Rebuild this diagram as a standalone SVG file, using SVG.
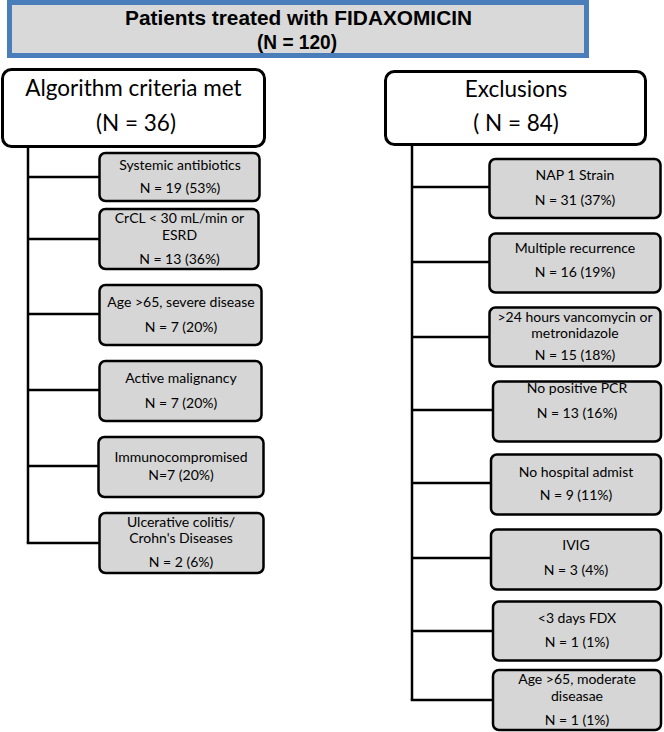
<svg xmlns="http://www.w3.org/2000/svg" width="664" height="732" viewBox="0 0 664 732">
<style>
.bg{fill:#ffffff}
.title{fill:#d9d9d9;stroke:#4a7ebb;stroke-width:5}
.tt{font-family:"Liberation Sans",Arial,sans-serif;font-weight:bold;font-size:20px;fill:#000;text-anchor:middle}
.hdr{fill:#ffffff;stroke:#000;stroke-width:3}
.ht{font-family:Lato,"Open Sans",sans-serif;font-size:22.5px;fill:#000;text-anchor:middle}
.box{fill:#d6d6d6;stroke:#000;stroke-width:2.5}
.bt{font-family:Lato,"Open Sans",sans-serif;font-size:14px;fill:#000;text-anchor:middle}
.conn line{stroke:#000;stroke-width:2.5;fill:none}
</style>
<rect class="bg" x="0" y="0" width="664" height="732"/>
<g id="title">
<rect class="title" x="9.5" y="2.5" width="577" height="53"/>
<text class="tt" x="298.5" y="25" textLength="347" lengthAdjust="spacingAndGlyphs">Patients treated with FIDAXOMICIN</text>
<text class="tt" x="297" y="49" textLength="80" lengthAdjust="spacingAndGlyphs">(N = 120)</text>
</g>
<g class="conn" id="connectors">
<line x1="28" y1="147" x2="28" y2="543"/>
<line x1="28" y1="177" x2="99" y2="177"/>
<line x1="28" y1="239" x2="99" y2="239"/>
<line x1="28" y1="314" x2="99" y2="314"/>
<line x1="28" y1="390" x2="99" y2="390"/>
<line x1="28" y1="466" x2="99" y2="466"/>
<line x1="26.75" y1="543" x2="99" y2="543"/>
<line x1="412" y1="145" x2="412" y2="700"/>
<line x1="412" y1="187" x2="489" y2="187"/>
<line x1="412" y1="262" x2="489" y2="262"/>
<line x1="412" y1="337" x2="489" y2="337"/>
<line x1="412" y1="410" x2="492" y2="410"/>
<line x1="412" y1="483" x2="490" y2="483"/>
<line x1="412" y1="558" x2="490" y2="558"/>
<line x1="412" y1="631" x2="492" y2="631"/>
<line x1="410.75" y1="700" x2="492" y2="700"/>
</g>
<g id="algorithm">
<rect class="hdr" x="2.5" y="69.5" width="262" height="77" rx="9"/>
<text class="ht" x="133.5" y="96">Algorithm criteria met</text>
<text class="ht" x="136" y="131">(N = 36)</text>
</g>
<g id="exclusions">
<rect class="hdr" x="385.5" y="71.5" width="260" height="73" rx="9"/>
<text class="ht" x="516" y="97">Exclusions</text>
<text class="ht" x="516" y="131">( N = 84)</text>
</g>
<g id="systemic">
<rect class="box" x="99.5" y="153" width="160" height="48" rx="6"/>
<text class="bt" x="180" y="170">Systemic antibiotics</text>
<text class="bt" x="180" y="193">N = 19 (53%)</text>
</g>
<g id="crcl">
<rect class="box" x="99.5" y="209" width="159" height="60" rx="6"/>
<text class="bt" x="179.5" y="223">CrCL &lt; 30 mL/min or</text>
<text class="bt" x="179.5" y="240">ESRD</text>
<text class="bt" x="179.5" y="264">N = 13 (36%)</text>
</g>
<g id="age-severe">
<rect class="box" x="99.5" y="285" width="162" height="60" rx="6"/>
<text class="bt" x="181" y="307">Age &gt;65, severe disease</text>
<text class="bt" x="181" y="332">N = 7 (20%)</text>
</g>
<g id="malignancy">
<rect class="box" x="99.5" y="361" width="162" height="60" rx="6"/>
<text class="bt" x="181" y="383">Active malignancy</text>
<text class="bt" x="181" y="408">N = 7 (20%)</text>
</g>
<g id="immuno">
<rect class="box" x="98.5" y="437" width="165" height="60" rx="6"/>
<text class="bt" x="181" y="462">Immunocompromised</text>
<text class="bt" x="181" y="480">N=7 (20%)</text>
</g>
<g id="ulcerative">
<rect class="box" x="99.5" y="513" width="164" height="60" rx="6"/>
<text class="bt" x="181" y="527">Ulcerative colitis/</text>
<text class="bt" x="181" y="543">Crohn's Diseases</text>
<text class="bt" x="181" y="567">N = 2 (6%)</text>
</g>
<g id="nap">
<rect class="box" x="489.5" y="159" width="171" height="59" rx="6"/>
<text class="bt" x="575" y="180">NAP 1 Strain</text>
<text class="bt" x="575" y="205">N = 31 (37%)</text>
</g>
<g id="multiple">
<rect class="box" x="489.5" y="233.5" width="171" height="59" rx="6"/>
<text class="bt" x="575" y="253">Multiple recurrence</text>
<text class="bt" x="575" y="277">N = 16 (19%)</text>
</g>
<g id="vanco">
<rect class="box" x="489.5" y="307.5" width="171" height="59" rx="6"/>
<text class="bt" x="575" y="322">&gt;24 hours vancomycin or</text>
<text class="bt" x="575" y="338">metronidazole</text>
<text class="bt" x="575" y="360">N = 15 (18%)</text>
</g>
<g id="pcr">
<rect class="box" x="493" y="381.5" width="168" height="60" rx="6"/>
<text class="bt" x="577" y="393">No positive PCR</text>
<text class="bt" x="577" y="418">N = 13 (16%)</text>
</g>
<g id="hospital">
<rect class="box" x="491" y="454.5" width="170" height="60" rx="6"/>
<text class="bt" x="576" y="477">No hospital admist</text>
<text class="bt" x="576" y="500">N = 9 (11%)</text>
</g>
<g id="ivig">
<rect class="box" x="491" y="529.5" width="170" height="60" rx="6"/>
<text class="bt" x="576" y="550">IVIG</text>
<text class="bt" x="576" y="575">N = 3 (4%)</text>
</g>
<g id="fdx">
<rect class="box" x="493" y="601.5" width="168" height="59" rx="6"/>
<text class="bt" x="577" y="623">&lt;3 days FDX</text>
<text class="bt" x="577" y="647">N = 1 (1%)</text>
</g>
<g id="age-moderate">
<rect class="box" x="493" y="670" width="168" height="60" rx="6"/>
<text class="bt" x="577" y="684">Age &gt;65, moderate</text>
<text class="bt" x="577" y="701">diseasae</text>
<text class="bt" x="577" y="725">N = 1 (1%)</text>
</g>
</svg>
